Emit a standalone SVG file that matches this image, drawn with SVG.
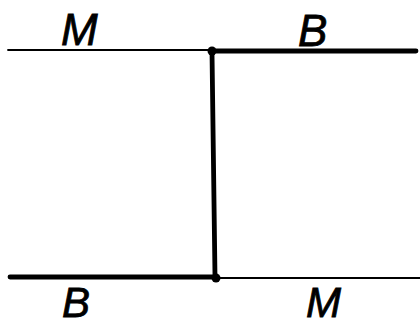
<svg xmlns="http://www.w3.org/2000/svg" width="420" height="327" viewBox="0 0 420 327">
<style>
.lbl{font-family:"Liberation Sans","DejaVu Sans",sans-serif;font-style:italic;font-size:44px;fill:#000;stroke:#000;stroke-width:0.8}
.sm{font-size:42px}
.thin{stroke:#000;stroke-width:1.8;fill:none;stroke-linecap:round}
.thick{stroke:#000;stroke-width:4.8;fill:none;stroke-linecap:round}
.dot{fill:#000}
</style>
<rect width="420" height="327" fill="#fff"/>
<g id="connectors">
<line class="thin" x1="8" y1="50" x2="212" y2="50"/>
<line class="thick" x1="212" y1="51" x2="416" y2="51"/>
<line class="thick" x1="212" y1="52" x2="215" y2="277"/>
<line class="thick" x1="10" y1="277" x2="216" y2="277"/>
<line class="thin" x1="216" y1="278" x2="420" y2="278"/>
</g>
<g id="junction-top"><circle class="dot" cx="212" cy="51" r="4.5"/></g>
<g id="junction-bottom"><circle class="dot" cx="216" cy="278" r="4.5"/></g>
<g id="label-M-top"><text class="lbl" x="61" y="45">M</text></g>
<g id="label-B-top"><text class="lbl" x="298" y="46">B</text></g>
<g id="label-B-bottom"><text class="lbl sm" x="62" y="317">B</text></g>
<g id="label-M-bottom"><text class="lbl sm" x="306" y="317">M</text></g>
</svg>
